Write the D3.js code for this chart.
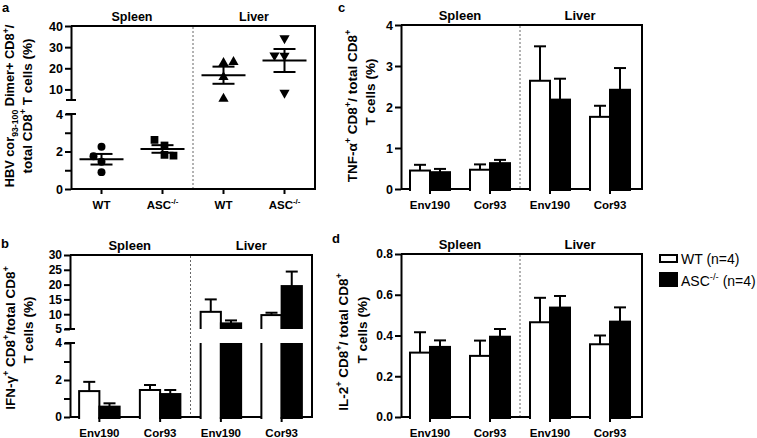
<!DOCTYPE html>
<html>
<head>
<meta charset="utf-8">
<script src="https://cdn.jsdelivr.net/npm/d3@7"></script>
<style>
body { margin: 0; background: #fff; }
svg { display: block; font-family: Arial, "Liberation Sans", sans-serif; }
</style>
</head>
<body>
<svg id="chart" width="757" height="438"></svg>
<script>
const tissues = ["Spleen", "Liver"];
const strains = ["WT", "ASC"];
const peptides = ["Env190", "Cor93"];

// a: dimer+ CD8+ / total CD8+ (%), one value per mouse
const dimerSpleenWT = [2.25, 1.75, 1.45, 0.9];
const dimerSpleenASC = [2.62, 2.32, 1.82, 1.78];
const dimerLiverWT = [22.5, 23.0, 15.8, 5.6];
const dimerLiverASC = [34.2, 26.1, 26.0, 8.4];

// bar panels: order = Spleen Env190, Spleen Cor93, Liver Env190, Liver Cor93
// b: IFN-g
const ifnWT = [1.40, 1.46, 10.8, 9.7];
const ifnWTsem = [0.50, 0.27, 4.2, 0.8];
const ifnASC = [0.56, 1.24, 6.9, 19.5];
const ifnASCsem = [0.18, 0.22, 1.0, 4.9];
// c: TNF-a
const tnfWT = [0.45, 0.47, 2.64, 1.76];
const tnfWTsem = [0.14, 0.13, 0.84, 0.27];
const tnfASC = [0.41, 0.63, 2.18, 2.42];
const tnfASCsem = [0.08, 0.08, 0.51, 0.53];
// d: IL-2
const il2WT = [0.316, 0.30, 0.465, 0.357];
const il2WTsem = [0.10, 0.075, 0.12, 0.043];
const il2ASC = [0.344, 0.394, 0.537, 0.468];
const il2ASCsem = [0.032, 0.038, 0.057, 0.07];

const svg = d3.select("#chart");

// writes text with sup/sub parts: [[str, kind], ...]
function richText(sel, parts, size) {
    let cur = 0;
    parts.forEach(([s, k]) => {
        const shift = k === "sup" ? -0.42 * size : k === "sub" ? 0.28 * size : 0;
        const t = sel.append("tspan").text(s).attr("dy", shift - cur);
        if (k) t.attr("font-size", size * 0.68);
        cur = shift;
    });
}

function frame(g, p) {
    g.append("path")
        .attr("d", `M${p.axisX},${p.top}H${p.right}V${p.bottom}H${p.axisX}`)
        .attr("fill", "none").attr("stroke", "#000").attr("stroke-width", 2);
}

function yAxis(g, p, scale, ticks, labels, fmt) {
    const ax = d3.axisLeft(scale).tickValues(ticks).tickSize(6).tickSizeOuter(0).tickPadding(2)
        .tickFormat(v => labels.includes(v) ? fmt(v) : "");
    const a = g.append("g").attr("transform", `translate(${p.axisX},0)`).call(ax)
        .attr("font-family", null).attr("font-size", null);
    a.select(".domain").attr("stroke-width", 2).attr("stroke", "#000");
    a.selectAll(".tick line").attr("stroke-width", 2).attr("stroke", "#000");
    a.selectAll(".tick text").attr("font-size", p.tickFs).attr("font-weight", "bold").attr("fill", "#000");
}

function cap(g, x, y) {
    g.append("line").attr("x1", x - 5).attr("x2", x + 5).attr("y1", y).attr("y2", y)
        .attr("stroke", "#000").attr("stroke-width", 2);
}

function xAxis(g, p, x, labels) {
    const ax = d3.axisBottom(x).tickSize(5).tickSizeOuter(0).tickFormat("");
    const a = g.append("g").attr("transform", `translate(0,${p.bottom})`).call(ax)
        .attr("font-family", null).attr("font-size", null);
    a.select(".domain").remove();
    a.selectAll(".tick line").attr("stroke-width", 2).attr("stroke", "#000");
    a.selectAll(".tick").each(function (d, i) {
        const t = d3.select(this).append("text").attr("y", 20).attr("text-anchor", "middle")
            .attr("font-size", p.catFs).attr("font-weight", "bold").attr("fill", "#000");
        richText(t, labels[i], p.catFs);
    });
}

function groupTitles(g, p, x) {
    const c = x.domain();
    const mid = i => (x(c[i * 2]) + x(c[i * 2 + 1])) / 2 + x.bandwidth() / 2;
    tissues.forEach((t, i) => {
        g.append("text").attr("x", mid(i)).attr("y", p.top - 5).attr("text-anchor", "middle")
            .attr("font-size", p.titleFs).attr("font-weight", "bold").text(t);
    });
    const sx = (x(c[1]) + x(c[2])) / 2 + x.bandwidth() / 2;
    g.append("line").attr("x1", sx).attr("x2", sx).attr("y1", p.top + 1).attr("y2", p.bottom - 1)
        .attr("stroke", "#666").attr("stroke-width", 1).attr("stroke-dasharray", "2,2");
}

function yTitle(g, lines) {
    lines.forEach(l => {
        const t = g.append("text").attr("text-anchor", "middle").attr("font-weight", "bold")
            .attr("font-size", l.fs)
            .attr("transform", `translate(${l.x},${l.y}) rotate(-90)`);
        richText(t, l.parts, l.fs);
    });
}

function letter(g, s, x, y) {
    g.append("text").attr("x", x).attr("y", y).attr("font-size", 13).attr("font-weight", "bold").text(s);
}

// bar chart with optional broken axis: segs = [{y, lo, hi}] bottom first
function bars(g, p, x, segs, wt, wtS, asc, ascS, id) {
    const sub = d3.scaleBand().domain(strains).range([0, x.bandwidth()]);
    const rows = x.domain().flatMap((c, i) => [
        { c, s: "WT", v: wt[i], e: wtS[i] },
        { c, s: "ASC", v: asc[i], e: ascS[i] }
    ]);
    const segOf = v => segs.find(s => v <= s.hi) || segs[segs.length - 1];
    segs.forEach((seg, k) => {
        const top = k === segs.length - 1 ? 0 : seg.y(seg.hi);
        const bot = k === 0 ? p.bottom + 2 : seg.y(seg.lo);
        g.append("clipPath").attr("id", `${id}clip${k}`).append("rect")
            .attr("x", 0).attr("width", 757).attr("y", top).attr("height", bot - top);
        g.append("g").attr("clip-path", `url(#${id}clip${k})`)
            .selectAll("rect").data(rows.filter(r => r.v > seg.lo || k === 0)).join("rect")
            .attr("x", r => x(r.c) + sub(r.s))
            .attr("width", sub.bandwidth())
            .attr("y", r => seg.y(r.v))
            .attr("height", r => seg.y(seg.lo) - seg.y(r.v) + 20)
            .attr("fill", r => r.s === "WT" ? "#fff" : "#000")
            .attr("stroke", "#000").attr("stroke-width", 2);
    });
    // error bars, upper half only
    const eg = g.append("g").attr("stroke", "#000").attr("stroke-width", 2);
    rows.forEach(r => {
        const y = segOf(r.v).y;
        const cx = x(r.c) + sub(r.s) + sub.bandwidth() / 2;
        eg.append("line").attr("x1", cx).attr("x2", cx).attr("y1", y(r.v)).attr("y2", y(r.v + r.e));
        eg.append("line").attr("x1", cx - 6).attr("x2", cx + 6).attr("y1", y(r.v + r.e)).attr("y2", y(r.v + r.e));
    });
}

const pepLabels = [[["Env190"]], [["Cor93"]], [["Env190"]], [["Cor93"]]];
const barCats = tissues.flatMap(t => peptides.map(pp => t + " " + pp));

// ---------- panel a ----------
{
    const p = { axisX: 71, right: 315, top: 26, bottom: 189, tickFs: 12.5, catFs: 11.5, titleFs: 12.5 };
    const g = svg.append("g");
    const cats = tissues.flatMap(t => strains.map(s => t + " " + s));
    const x = d3.scaleBand().domain(cats).range([71, 315]).paddingInner(1 / 3).paddingOuter(1 / 6);
    const yLo = d3.scaleLinear().domain([0, 4]).range([189, 114]);
    const yHi = d3.scaleLinear().domain([5, 40]).range([100, 26]);
    frame(g, p);
    yAxis(g, p, yLo, [0, 1, 2, 3, 4], [0, 2, 4], d3.format("d"));
    yAxis(g, p, yHi, [10, 20, 30, 40], [10, 20, 30, 40], d3.format("d"));
    cap(g, p.axisX, yLo(4));
    cap(g, p.axisX, yHi(5));
    xAxis(g, p, x, [[["WT"]], [["ASC"], ["-/-", "sup"]], [["WT"]], [["ASC"], ["-/-", "sup"]]]);
    groupTitles(g, p, x);

    const sets = [dimerSpleenWT, dimerSpleenASC, dimerLiverWT, dimerLiverASC];
    const jitter = [[0, -8, 0, 0], [-8, 2, 2, 11], [0, 10, 0, 0], [0, -10, 0, 0]];
    const shapes = [d3.symbolCircle, d3.symbolSquare, d3.symbolTriangle, d3.symbolTriangle];
    const sizes = [50, 60, 45, 45];
    sets.forEach((vals, i) => {
        const y = i < 2 ? yLo : yHi;
        const cx = x(cats[i]) + x.bandwidth() / 2;
        g.append("g").selectAll("path").data(vals).join("path")
            .attr("d", d3.symbol(shapes[i], sizes[i]))
            .attr("transform", (v, j) => `translate(${cx + jitter[i][j]},${y(v)})` + (i === 3 ? " rotate(180)" : ""))
            .attr("fill", "#000");
        const m = d3.mean(vals), se = d3.deviation(vals) / Math.sqrt(vals.length);
        const lg = g.append("g").attr("stroke", "#000").attr("stroke-width", 2);
        lg.append("line").attr("x1", cx - 22).attr("x2", cx + 22).attr("y1", y(m)).attr("y2", y(m));
        lg.append("line").attr("x1", cx - 11).attr("x2", cx + 11).attr("y1", y(m + se)).attr("y2", y(m + se));
        lg.append("line").attr("x1", cx - 11).attr("x2", cx + 11).attr("y1", y(m - se)).attr("y2", y(m - se));
        lg.append("line").attr("x1", cx).attr("x2", cx).attr("y1", y(m + se)).attr("y2", y(m - se));
    });
    letter(g, "a", 2, 12);
    yTitle(g, [
        { x: 14, y: 106, fs: 12.8, parts: [["HBV cor"], ["93-100", "sub"], [" Dimer+ CD8"], ["+", "sup"], ["/"]] },
        { x: 32, y: 106, fs: 13.5, parts: [["total CD8"], ["+", "sup"], [" T cells (%)"]] }
    ]);
}

// ---------- panel b ----------
{
    const p = { axisX: 70, right: 312, top: 255, bottom: 417, tickFs: 12, catFs: 11.5, titleFs: 13 };
    const g = svg.append("g");
    const x = d3.scaleBand().domain(barCats).range([69, 312]).paddingInner(1 / 3).paddingOuter(1 / 6);
    const yLo = d3.scaleLinear().domain([0, 4]).range([417, 343]);
    const yHi = d3.scaleLinear().domain([5, 30]).range([329, 255]);
    frame(g, p);
    groupTitles(g, p, x);
    bars(g, p, x, [{ y: yLo, lo: 0, hi: 4 }, { y: yHi, lo: 5, hi: 30 }], ifnWT, ifnWTsem, ifnASC, ifnASCsem, "b");
    yAxis(g, p, yLo, [0, 1, 2, 3, 4], [0, 2, 4], d3.format("d"));
    yAxis(g, p, yHi, [5, 10, 15, 20, 25, 30], [5, 10, 15, 20, 25, 30], d3.format("d"));
    cap(g, p.axisX, yLo(4));
    cap(g, p.axisX, yHi(5));
    xAxis(g, p, x, pepLabels);
    letter(g, "b", 1, 248);
    yTitle(g, [
        { x: 15, y: 338, fs: 13.5, parts: [["IFN-γ"], ["+", "sup"], [" CD8"], ["+", "sup"], ["/total CD8"], ["+", "sup"]] },
        { x: 33, y: 330, fs: 13.5, parts: [["T cells (%)"]] }
    ]);
}

// ---------- panel c ----------
{
    const p = { axisX: 401, right: 642, top: 25, bottom: 189, tickFs: 12.5, catFs: 11.5, titleFs: 13 };
    const g = svg.append("g");
    const x = d3.scaleBand().domain(barCats).range([400, 640]).paddingInner(1 / 3).paddingOuter(1 / 6);
    const y = d3.scaleLinear().domain([0, 4]).range([189, 25]);
    frame(g, p);
    groupTitles(g, p, x);
    bars(g, p, x, [{ y, lo: 0, hi: 4 }], tnfWT, tnfWTsem, tnfASC, tnfASCsem, "c");
    yAxis(g, p, y, [0, 1, 2, 3, 4], [0, 1, 2, 3, 4], d3.format("d"));
    xAxis(g, p, x, pepLabels);
    letter(g, "c", 338, 12);
    yTitle(g, [
        { x: 357, y: 106, fs: 13.5, parts: [["TNF-α"], ["+", "sup"], [" CD8"], ["+", "sup"], ["/ total CD8"], ["+", "sup"]] },
        { x: 375, y: 92, fs: 13.5, parts: [["T cells (%)"]] }
    ]);
}

// ---------- panel d ----------
{
    const p = { axisX: 401, right: 642, top: 254, bottom: 417, tickFs: 12, catFs: 11.5, titleFs: 13 };
    const g = svg.append("g");
    const x = d3.scaleBand().domain(barCats).range([400, 640]).paddingInner(1 / 3).paddingOuter(1 / 6);
    const y = d3.scaleLinear().domain([0, 0.8]).range([417, 254]);
    frame(g, p);
    groupTitles(g, p, x);
    bars(g, p, x, [{ y, lo: 0, hi: 0.8 }], il2WT, il2WTsem, il2ASC, il2ASCsem, "d");
    yAxis(g, p, y, [0, 0.2, 0.4, 0.6, 0.8], [0, 0.2, 0.4, 0.6, 0.8], d3.format(".1f"));
    xAxis(g, p, x, pepLabels);
    letter(g, "d", 332, 243);
    yTitle(g, [
        { x: 348, y: 342, fs: 13.5, parts: [["IL-2"], ["+", "sup"], [" CD8"], ["+", "sup"], ["/ total CD8"], ["+", "sup"]] },
        { x: 367, y: 330, fs: 13.5, parts: [["T cells (%)"]] }
    ]);

    // legend
    const lg = svg.append("g");
    lg.append("rect").attr("x", 660).attr("y", 255).attr("width", 17).attr("height", 7)
        .attr("fill", "#fff").attr("stroke", "#000").attr("stroke-width", 2);
    lg.append("rect").attr("x", 659).attr("y", 272).attr("width", 19).attr("height", 15).attr("fill", "#000");
    lg.append("text").attr("x", 681).attr("y", 264).attr("font-size", 14).text("WT (n=4)");
    const t = lg.append("text").attr("x", 681).attr("y", 286).attr("font-size", 14);
    richText(t, [["ASC"], ["-/-", "sup"], [" (n=4)"]], 14);
}
</script>
</body>
</html>
